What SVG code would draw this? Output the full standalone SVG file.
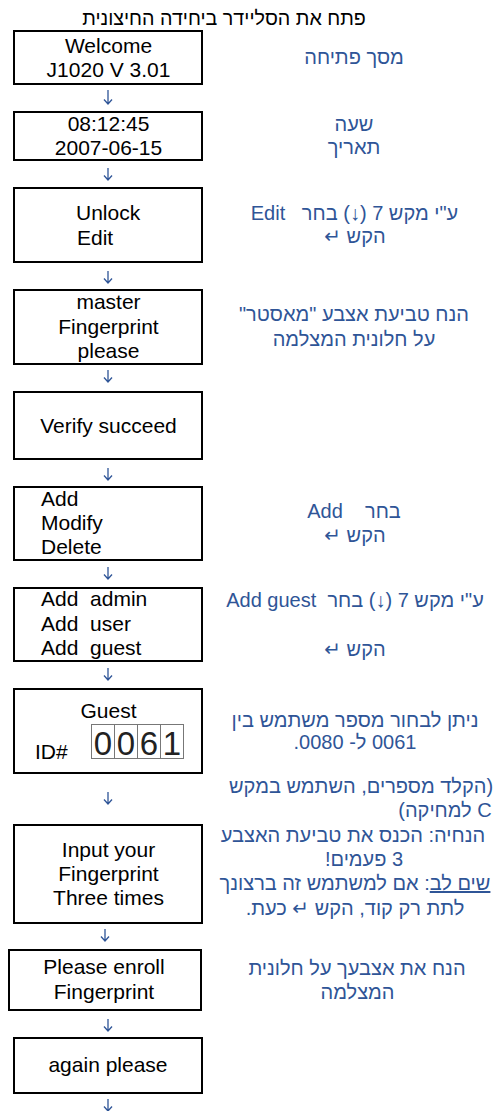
<svg xmlns="http://www.w3.org/2000/svg" width="499" height="1111" viewBox="0 0 499 1111">
<style>
.box{fill:#fff;stroke:#000;stroke-width:2}
.t{font-family:"Liberation Sans",Arial,sans-serif;font-size:21px;fill:#000}
.c{text-anchor:middle}
.ttl{font-family:"Liberation Sans",Arial,sans-serif;font-size:19.7px;fill:#000;text-anchor:middle;direction:rtl}
.h{font-family:"Liberation Sans","DejaVu Sans",Arial,sans-serif;font-size:20px;fill:#2F5597;text-anchor:middle;direction:rtl}
.arr{fill:none;stroke:#2F5597;stroke-width:1.3}
.cell{fill:none;stroke:#777;stroke-width:1}
.dg{font-family:"Liberation Sans",Arial,sans-serif;font-size:33px;fill:#222;text-anchor:middle}
</style>
<rect width="499" height="1111" fill="#fff"/>
<text class="ttl" x="224" y="25">פתח את הסליידר ביחידה החיצונית</text>

<g id="n1">
<rect class="box" x="14" y="31" width="188" height="53"/>
<text class="t c" x="108.5" y="53">Welcome</text>
<text class="t c" x="108.5" y="77">J1020 V 3.01</text>
</g>
<g id="l1"><text class="h" x="354" y="64">מסך פתיחה</text></g>

<g id="n2">
<rect class="box" x="14" y="112" width="188" height="48"/>
<text class="t c" x="108.5" y="131">08:12:45</text>
<text class="t c" x="108.5" y="155">2007-06-15</text>
</g>
<g id="l2"><text class="h" x="354" y="131">שעה</text><text class="h" x="354" y="154">תאריך</text></g>

<g id="n3">
<rect class="box" x="14" y="188" width="188" height="74"/>
<text class="t" x="76" y="220">Unlock</text>
<text class="t" x="77" y="245">Edit</text>
</g>
<g id="l3"><text class="h" x="354.5" y="220" xml:space="preserve">ע"י מקש 7 (↓) בחר   Edit</text><text class="h" x="355" y="243">הקש ↵</text></g>

<g id="n4">
<rect class="box" x="14" y="290" width="188" height="74"/>
<text class="t c" x="108.5" y="309">master</text>
<text class="t c" x="108.5" y="334">Fingerprint</text>
<text class="t c" x="108.5" y="358">please</text>
</g>
<g id="l4"><text class="h" x="354" y="321">הנח טביעת אצבע "מאסטר"</text><text class="h" x="354" y="346">על חלונית המצלמה</text></g>

<g id="n5">
<rect class="box" x="14" y="392" width="188" height="67"/>
<text class="t c" x="108.5" y="433">Verify succeed</text>
</g>

<g id="n6">
<rect class="box" x="14" y="487" width="188" height="73"/>
<text class="t" x="41" y="506">Add</text>
<text class="t" x="41" y="530">Modify</text>
<text class="t" x="41" y="554">Delete</text>
</g>
<g id="l6"><text class="h" x="354" y="518" xml:space="preserve">בחר    Add</text><text class="h" x="355" y="542">הקש ↵</text></g>

<g id="n7">
<rect class="box" x="14" y="588" width="188" height="73"/>
<text class="t" x="41" y="606" xml:space="preserve">Add  admin</text>
<text class="t" x="41" y="631" xml:space="preserve">Add  user</text>
<text class="t" x="41" y="655" xml:space="preserve">Add  guest</text>
</g>
<g id="l7"><text class="h" x="355" y="607" xml:space="preserve">ע"י מקש 7 (↓) בחר  Add guest</text><text class="h" x="355" y="656">הקש ↵</text></g>

<g id="n8">
<rect class="box" x="14" y="689" width="188" height="84"/>
<text class="t c" x="108.5" y="718">Guest</text>
<text class="t" x="35" y="759">ID#</text>
<rect class="cell" x="91.5" y="724.5" width="92" height="34"/>
<line class="cell" x1="114.5" y1="724.5" x2="114.5" y2="758.5"/>
<line class="cell" x1="137.5" y1="724.5" x2="137.5" y2="758.5"/>
<line class="cell" x1="160.5" y1="724.5" x2="160.5" y2="758.5"/>
<text class="dg" x="103" y="755">0</text>
<text class="dg" x="126" y="755">0</text>
<text class="dg" x="149" y="755">6</text>
<text class="dg" x="172" y="755">1</text>
</g>
<g id="l8">
<text class="h" x="355" y="727">ניתן לבחור מספר משתמש בין</text>
<text class="h" x="355" y="749">0061 ל- 0080.</text>
<text class="h" x="361" y="793">(הקלד מספרים, השתמש במקש</text>
<text class="h" x="445" y="817">C למחיקה)</text>
</g>

<g id="n9">
<rect class="box" x="14" y="825" width="188" height="98"/>
<text class="t c" x="108.5" y="857">Input your</text>
<text class="t c" x="108.5" y="881">Fingerprint</text>
<text class="t c" x="108.5" y="905">Three times</text>
</g>
<g id="l9">
<text class="h" x="353" y="842">הנחיה: הכנס את טביעת האצבע</text>
<text class="h" x="364" y="866">3 פעמים!</text>
<text class="h" x="355" y="890"><tspan text-decoration="underline">שים לב</tspan>: אם למשתמש זה ברצונך</text>
<text class="h" x="355" y="915">לתת רק קוד, הקש ↵ כעת.</text>
</g>

<g id="n10">
<rect class="box" x="9" y="950" width="192" height="60"/>
<text class="t c" x="104" y="974">Please enroll</text>
<text class="t c" x="104" y="999">Fingerprint</text>
</g>
<g id="l10"><text class="h" x="357" y="975">הנח את אצבעך על חלונית</text><text class="h" x="357.5" y="999">המצלמה</text></g>

<g id="n11">
<rect class="box" x="14" y="1038" width="188" height="55"/>
<text class="t c" x="108" y="1072">again please</text>
</g>

<g id="connectors">
<path class="arr" d="M108 90V104M104 99.5L108 104L112 99.5"/>
<path class="arr" d="M108 168V180M104 175.5L108 180L112 175.5"/>
<path class="arr" d="M108 271V283M104 278.5L108 283L112 278.5"/>
<path class="arr" d="M108 370V382M104 377.5L108 382L112 377.5"/>
<path class="arr" d="M108 468V480M104 475.5L108 480L112 475.5"/>
<path class="arr" d="M108 567V579M104 574.5L108 579L112 574.5"/>
<path class="arr" d="M108 668V680M104 675.5L108 680L112 675.5"/>
<path class="arr" d="M108 792V804M104 799.5L108 804L112 799.5"/>
<path class="arr" d="M105 929V941M101 936.5L105 941L109 936.5"/>
<path class="arr" d="M108 1019V1031M104 1026.5L108 1031L112 1026.5"/>
<path class="arr" d="M108 1099V1111M104 1106.5L108 1111L112 1106.5"/>
</g>
</svg>
